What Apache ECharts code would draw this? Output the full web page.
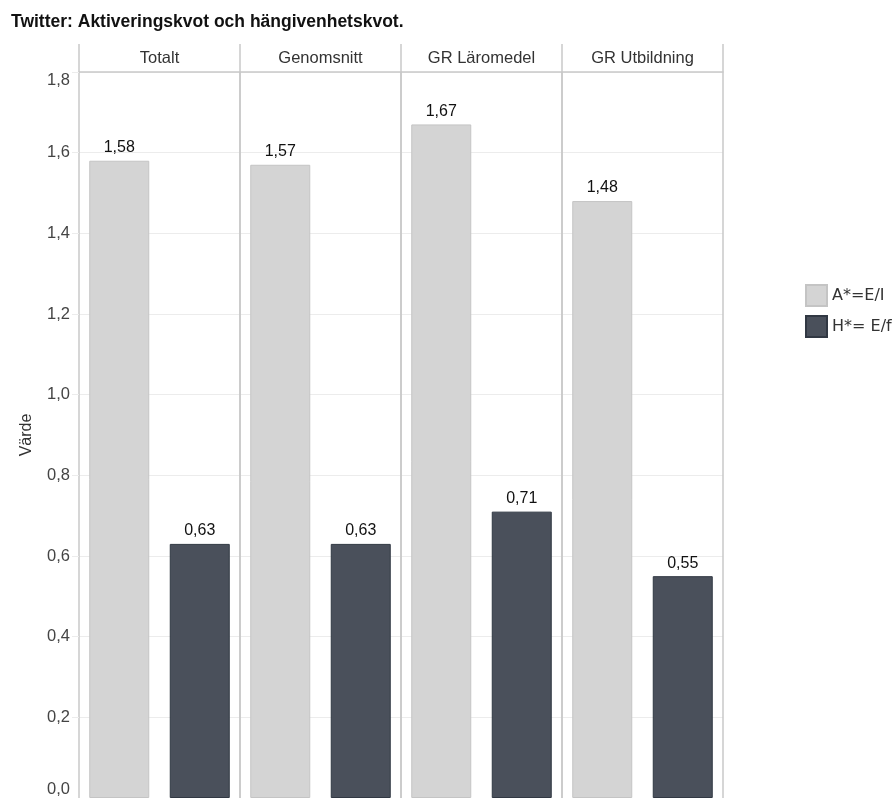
<!DOCTYPE html>
<html>
<head>
<meta charset="utf-8">
<script src="https://cdn.jsdelivr.net/npm/echarts@6/dist/echarts.min.js"></script>
<style>
html,body{margin:0;padding:0;background:#fff;}
#chart{width:896px;height:798px;}
</style>
</head>
<body>
<div id="chart"></div>
<script>
const panels = ['Totalt', 'Genomsnitt', 'GR Läromedel', 'GR Utbildning'];
const measures = ['A*=E/I', 'H*= E/f'];
const aValues = [1.58, 1.57, 1.67, 1.48];
const hValues = [0.63, 0.63, 0.71, 0.55];
const yTicks = [0, 0.2, 0.4, 0.6, 0.8, 1.0, 1.2, 1.4, 1.6, 1.8];

const FONT = '"Liberation Sans", Arial, Helvetica, sans-serif';
const lineColor = '#c9c9c9';
const gridColor = '#ececec';
const colors = ['#d4d4d4', '#4a505b'];
const borders = ['#c4c4c4', '#313843'];

const panelLeft = 79, panelWidth = 161, gridTop = 72, gridBottom = 0;

const fmt = v => v.toFixed(2).replace('.', ',');

const grids = [], xAxes = [], yAxes = [], series = [];
panels.forEach((p, i) => {
  grids.push({left: panelLeft + i * panelWidth, width: panelWidth, top: gridTop, bottom: gridBottom, containLabel: false});
  xAxes.push({
    type: 'category', gridIndex: i, data: measures, position: 'bottom',
    axisLine: {show: false}, axisTick: {show: false}, axisLabel: {show: false}, splitLine: {show: false}
  });
  xAxes.push({
    type: 'category', gridIndex: i, data: [p], position: 'top',
    axisLine: {show: true, lineStyle: {color: lineColor, width: 1.5}},
    axisTick: {show: true, length: 28, alignWithLabel: false, lineStyle: {color: lineColor, width: 1.5}},
    axisLabel: {show: true, margin: 5, color: '#333', fontSize: 16.5, fontFamily: FONT},
    splitLine: {show: true, lineStyle: {color: lineColor, width: 1.5}}
  });
  yAxes.push({
    type: 'value', gridIndex: i, min: yTicks[0], max: yTicks[yTicks.length - 1], interval: 0.2,
    name: i === 0 ? 'Värde' : '', nameLocation: 'middle', nameGap: 44,
    nameTextStyle: {color: '#333', fontSize: 16, fontFamily: FONT},
    axisLine: {show: false},
    axisTick: {show: i === 0, length: 7, lineStyle: {color: gridColor}},
    axisLabel: {
      show: i === 0, color: '#444', fontSize: 16.5, fontFamily: FONT, margin: 9,
      verticalAlignMinLabel: 'bottom',
      verticalAlignMaxLabel: 'top',
      formatter: v => v.toFixed(1).replace('.', ',')
    },
    splitLine: {show: true, lineStyle: {color: gridColor, width: 1}}
  });
  [aValues, hValues].forEach((vals, k) => {
    const data = measures.map((m, j) => j === k ? vals[i] : '-');
    series.push({
      name: measures[k], type: 'bar', xAxisIndex: i * 2, yAxisIndex: i,
      data: data, barWidth: 60, barGap: '-100%',
      itemStyle: {color: colors[k], borderColor: borders[k], borderWidth: 1},
      label: {show: true, position: 'top', distance: 5, color: '#111', fontSize: 16, fontFamily: FONT,
              formatter: pr => fmt(pr.value)},
      emphasis: {disabled: true}, animation: false
    });
  });
});

const chart = echarts.init(document.getElementById('chart'), null, {renderer: 'canvas'});
chart.setOption({
  animation: false,
  backgroundColor: '#fff',
  title: {text: 'Twitter: Aktiveringskvot och hängivenhetskvot.', left: 11, top: 13, padding: 0,
          textStyle: {fontSize: 17.5, fontWeight: 'bold', color: '#111', fontFamily: FONT}},
  legend: {
    orient: 'vertical', left: 805, top: 284, padding: 0, itemWidth: 21, itemHeight: 21, itemGap: 8,
    icon: 'rect', data: measures,
    textStyle: {color: '#333', fontSize: 16, fontFamily: '"DejaVu Sans", sans-serif'}
  },
  grid: grids, xAxis: xAxes, yAxis: yAxes, series: series
});
</script>
</body>
</html>
